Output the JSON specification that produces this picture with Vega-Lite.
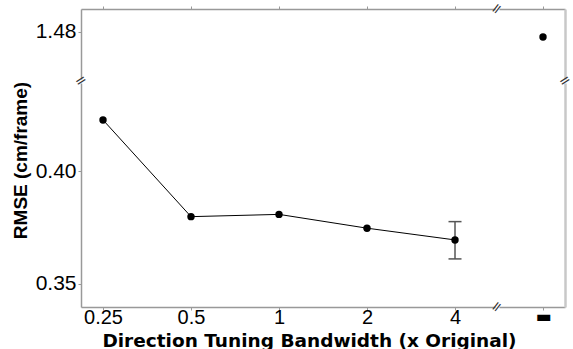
{
  "$schema": "https://vega.github.io/schema/vega-lite/v6.json",
  "autosize": {"type": "pad"},
  "padding": {"left": 11, "top": 0, "right": 8, "bottom": 4},
  "background": "white",
  "config": {
    "view": {"stroke": null},
    "axis": {
      "grid": false,
      "domainColor": "#999999",
      "domainWidth": 1.5,
      "tickColor": "#999999",
      "tickSize": 3,
      "tickWidth": 1,
      "labelFont": "Liberation Sans",
      "labelColor": "#000000",
      "labelFontSize": 20
    }
  },
  "datasets": {
    "tuned": [
      {"bandwidth": 0.25, "rmse": 0.4226},
      {"bandwidth": 0.5, "rmse": 0.3798},
      {"bandwidth": 1, "rmse": 0.3808},
      {"bandwidth": 2, "rmse": 0.3747},
      {"bandwidth": 4, "rmse": 0.3695, "lo": 0.3611, "hi": 0.3776}
    ],
    "uniform": [{"condition": "uniform", "rmse": 1.4776}]
  },
  "columns": 2,
  "spacing": 4,
  "bounds": "flush",
  "align": "each",
  "concat": [
    {
      "width": 414,
      "height": 70,
      "data": {"values": [{}]},
      "layer": [
        {
          "mark": {"type": "text", "text": "=", "font": "DejaVu Sans", "fontSize": 14, "color": "#333333", "angle": -33, "yOffset": 2, "align": "center", "baseline": "middle"},
          "encoding": {
            "x": {"datum": 0.210224, "type": "quantitative",
              "scale": {"type": "log", "base": 2, "domain": [0.210224, 5.4812], "nice": false},
              "axis": {"orient": "top", "values": [0.25, 0.5, 1, 2, 4], "labels": false, "title": null}},
            "y": {"datum": 1.45898, "type": "quantitative",
              "scale": {"domain": [1.45898, 1.48996], "nice": false, "zero": false},
              "axis": {"values": [1.48], "format": ".2f", "title": null, "labelFontSize": 21, "labelPadding": 2}}
          }
        },
        {
          "mark": {"type": "text", "text": "=", "font": "DejaVu Sans", "fontSize": 14, "color": "#333333", "angle": -52, "xOffset": 2, "align": "center", "baseline": "middle"},
          "encoding": {
            "x": {"datum": 5.4812, "type": "quantitative"},
            "y": {"datum": 1.48996, "type": "quantitative"}
          }
        }
      ]
    },
    {
      "width": 66,
      "height": 70,
      "data": {"name": "uniform"},
      "mark": {"type": "point", "filled": true, "color": "#000000", "size": 55, "opacity": 1},
      "encoding": {
        "x": {"field": "condition", "type": "nominal",
          "scale": {"type": "point", "domain": ["uniform"], "align": 0.6667, "padding": 0},
          "axis": {"orient": "top", "labels": false, "title": null}},
        "y": {"field": "rmse", "type": "quantitative",
          "scale": {"domain": [1.45898, 1.48996], "nice": false, "zero": false},
          "axis": {"orient": "right", "ticks": false, "labels": false, "title": null, "domainColor": "#c8c8c8", "domainWidth": 2.5}}
      }
    },
    {
      "width": 414,
      "height": 224,
      "layer": [
        {
          "data": {"name": "tuned"},
          "mark": {"type": "line", "color": "#000000", "strokeWidth": 1},
          "encoding": {
            "x": {"field": "bandwidth", "type": "quantitative",
              "scale": {"type": "log", "base": 2, "domain": [0.210224, 5.4812], "nice": false},
              "axis": {"values": [0.25, 0.5, 1, 2, 4], "labelExpr": "'' + datum.value", "labelPadding": -3,
                "title": "Direction Tuning Bandwidth (x Original)", "titleFont": "DejaVu Sans", "titleFontWeight": "bold",
                "titleFontSize": 18.5, "titleColor": "#000000", "titleX": 228, "titleY": 39, "titleBaseline": "alphabetic", "titleAlign": "center"}},
            "y": {"field": "rmse", "type": "quantitative",
              "scale": {"domain": [0.33982, 0.43894], "nice": false, "zero": false},
              "axis": {"values": [0.35, 0.4], "format": ".2f", "labelFontSize": 21, "labelPadding": 2,
                "title": "RMSE (cm/frame)", "titleFont": "Liberation Sans", "titleFontWeight": "bold", "titleFontSize": 19,
                "titleColor": "#000000", "titleX": -55, "titleY": 77, "titleBaseline": "alphabetic", "titleAlign": "center", "titleAngle": -90}}
          }
        },
        {
          "data": {"name": "tuned"},
          "mark": {"type": "rule", "color": "#555555", "strokeWidth": 1.5},
          "encoding": {
            "x": {"field": "bandwidth", "type": "quantitative"},
            "y": {"field": "lo", "type": "quantitative"},
            "y2": {"field": "hi"}
          }
        },
        {
          "data": {"name": "tuned"},
          "mark": {"type": "tick", "orient": "horizontal", "size": 13, "thickness": 1.5, "color": "#555555", "opacity": 1},
          "encoding": {
            "x": {"field": "bandwidth", "type": "quantitative"},
            "y": {"field": "lo", "type": "quantitative"}
          }
        },
        {
          "data": {"name": "tuned"},
          "mark": {"type": "tick", "orient": "horizontal", "size": 13, "thickness": 1.5, "color": "#555555", "opacity": 1},
          "encoding": {
            "x": {"field": "bandwidth", "type": "quantitative"},
            "y": {"field": "hi", "type": "quantitative"}
          }
        },
        {
          "data": {"name": "tuned"},
          "mark": {"type": "point", "filled": true, "color": "#000000", "size": 55, "opacity": 1},
          "encoding": {
            "x": {"field": "bandwidth", "type": "quantitative"},
            "y": {"field": "rmse", "type": "quantitative"}
          }
        },
        {
          "data": {"values": [{}]},
          "mark": {"type": "text", "text": "=", "font": "DejaVu Sans", "fontSize": 14, "color": "#333333", "angle": -52, "xOffset": 2, "align": "center", "baseline": "middle"},
          "encoding": {
            "x": {"datum": 5.4812, "type": "quantitative"},
            "y": {"datum": 0.33982, "type": "quantitative"}
          }
        }
      ]
    },
    {
      "width": 66,
      "height": 224,
      "data": {"values": [{}]},
      "mark": {"type": "text", "text": "=", "font": "DejaVu Sans", "fontSize": 14, "color": "#333333", "angle": -33, "xOffset": 22, "yOffset": -2, "align": "center", "baseline": "middle"},
      "encoding": {
        "x": {"datum": "uniform", "type": "nominal",
          "scale": {"type": "point", "domain": ["uniform"], "align": 0.6667, "padding": 0},
          "axis": {"labelExpr": "'▬'", "title": null, "labelFont": "DejaVu Sans", "labelFontSize": 17, "labelPadding": -2, "labelAngle": 0}},
        "y": {"datum": 0.43894, "type": "quantitative",
          "scale": {"domain": [0.33982, 0.43894], "nice": false, "zero": false},
          "axis": {"orient": "right", "ticks": false, "labels": false, "title": null, "domainColor": "#c8c8c8", "domainWidth": 2.5}}
      }
    }
  ]
}
